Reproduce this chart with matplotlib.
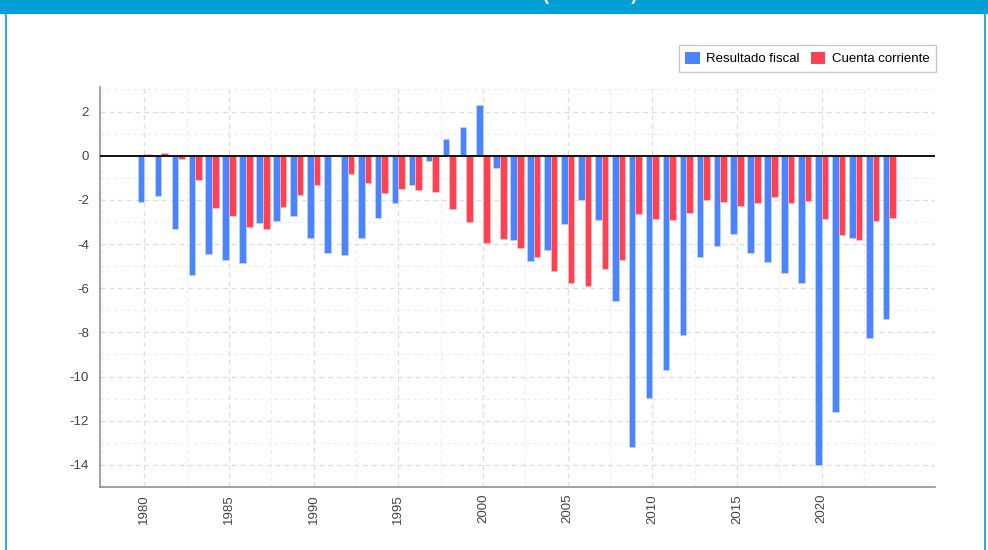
import matplotlib
matplotlib.use("Agg")
import matplotlib.pyplot as plt
from matplotlib.patches import Rectangle
from matplotlib.lines import Line2D
import numpy as np

plt.rcParams['font.family'] = ['Liberation Sans', 'DejaVu Sans']
plt.rcParams['axes.unicode_minus'] = False

years = list(range(1980, 2025))
resultado_fiscal = [
    -2.08, -1.81, -3.33, -5.38, -4.43, -4.70, -4.85, -3.06, -2.97, -2.73,
    -3.72, -4.40, -4.48, -3.73, -2.80, -2.16, -1.33, -0.25, 0.76, 1.30,
    2.29, -0.54, -3.82, -4.78, -4.25, -3.09, -2.02, -2.92, -6.60, -13.17,
    -10.99, -9.71, -8.10, -4.57, -4.07, -3.55, -4.39, -4.82, -5.33, -5.75,
    -14.00, -11.62, -3.72, -8.24, -7.39]
cuenta_corriente = [
    0.07, 0.13, -0.16, -1.08, -2.35, -2.74, -3.22, -3.33, -2.32, -1.77,
    -1.33, 0.03, -0.81, -1.24, -1.68, -1.50, -1.56, -1.65, -2.40, -3.00,
    -3.94, -3.75, -4.18, -4.57, -5.23, -5.75, -5.91, -5.11, -4.73, -2.64,
    -2.88, -2.92, -2.58, -2.02, -2.11, -2.26, -2.13, -1.89, -2.16, -2.07,
    -2.85, -3.58, -3.82, -2.97, -2.82]
series_names = ["Resultado fiscal", "Cuenta corriente"]
title = "Resultado fiscal vs cuenta corriente (% del PIB)"
y_ticks = [2, 0, -2, -4, -6, -8, -10, -12, -14]
x_ticks = [1980, 1985, 1990, 1995, 2000, 2005, 2010, 2015, 2020]

BLUE = '#4a84ff'
RED = '#ff4252'
FRAME = '#00a0d6'

fig = plt.figure(figsize=(9.88, 5.5), dpi=100)
W, H = 988, 550

# frame: top bar and side borders
fig.patches.append(Rectangle((0, 1 - 14 / H), 1, 14 / H, transform=fig.transFigure,
                             facecolor=FRAME, edgecolor='none', zorder=0))
fig.lines.append(Line2D([6 / W, 6 / W], [0, 1], transform=fig.transFigure, color=FRAME, lw=1.2))
fig.lines.append(Line2D([984.5 / W, 984.5 / W], [0, 1], transform=fig.transFigure, color=FRAME, lw=1.2))
fig.text(637 / W, 1 - 0.5 / H, title, color='white', fontsize=13, fontweight='bold',
         ha='right', va='baseline')

ax = fig.add_axes([100 / W, 63 / H, 835 / W, 400 / H])
x = np.array(years, dtype=float)
bw = 0.39
ax.bar(x - 0.195, resultado_fiscal, width=bw, color=BLUE, edgecolor='#c9dbff',
       linewidth=0.4, label=series_names[0], zorder=3)
ax.bar(x + 0.195, cuenta_corriente, width=bw, color=RED, edgecolor='#ffc9ce',
       linewidth=0.4, label=series_names[1], zorder=3)
ax.axhline(0, color='#111111', lw=1.4, zorder=4)

ax.set_xlim(1977.38, 2026.69)
ax.set_ylim(-14.87, 3.11)
ax.set_yticks(y_ticks)
ax.set_yticklabels([str(v) for v in y_ticks])
ax.set_xticks(x_ticks)
ax.set_xticklabels([str(v) for v in x_ticks], rotation=90)
ax.set_xticks([t + 2.5 for t in [1975] + x_ticks], minor=True)
ax.set_yticks([-15, -13, -11, -9, -7, -5, -3, -1, 1, 3], minor=True)
ax.tick_params(axis='both', which='both', length=0, labelsize=9.5, labelcolor='#444444')
ax.tick_params(axis='y', pad=8)
ax.tick_params(axis='x', pad=5)

ax.grid(which='major', color='#dddddd', linestyle=(0, (4, 3)), linewidth=0.9, zorder=0)
ax.grid(which='minor', color='#ececec', linestyle=(0, (3, 3)), linewidth=0.8, zorder=0)
ax.set_axisbelow(True)

for s in ['top', 'right']:
    ax.spines[s].set_visible(False)
for s in ['left', 'bottom']:
    ax.spines[s].set_color('#888888')
    ax.spines[s].set_linewidth(1.1)

leg = ax.legend(loc='lower right', bbox_to_anchor=(936 / W, 1 - 72 / H),
                bbox_transform=fig.transFigure, borderaxespad=0, ncol=2, frameon=True,
                fancybox=False, fontsize=9.5, handlelength=1.1, handleheight=1.1,
                handletextpad=0.5, columnspacing=0.8, borderpad=0.5, edgecolor='#bbbbbb')
leg.get_frame().set_linewidth(1.0)
for h in leg.legend_handles:
    h.set_edgecolor('none')

fig.savefig('out.png', dpi=100)
